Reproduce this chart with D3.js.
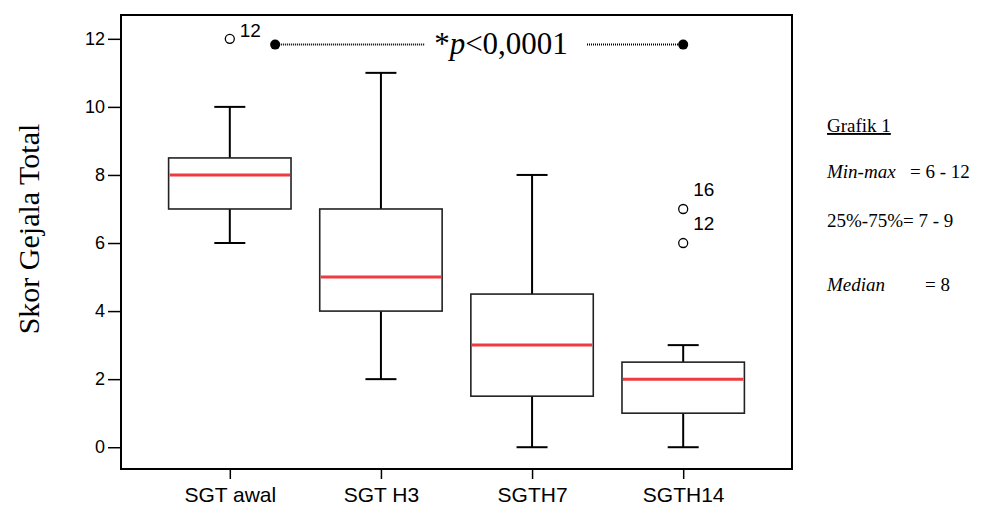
<!DOCTYPE html>
<html>
<head>
<meta charset="utf-8">
<script src="https://cdn.jsdelivr.net/npm/d3@7"></script>
<style>
  body { margin: 0; background: #fff; }
  svg { display: block; }
</style>
</head>
<body>
<div id="chart-area"></div>
<script>
// data
const groups = ["SGT awal", "SGT H3", "SGTH7", "SGTH14"];
const minVals = [6, 2, 0, 0];
const q1Vals = [7, 4, 1.5, 1];
const medianVals = [8, 5, 3, 2];
const q3Vals = [8.5, 7, 4.5, 2.5];
const maxVals = [10, 11, 8, 3];
const outliers = [
    {group: "SGT awal", value: 12, label: "12"},
    {group: "SGTH14", value: 7, label: "16"},
    {group: "SGTH14", value: 6, label: "12"}
];
const yTicks = [0, 2, 4, 6, 8, 10, 12];
const sigValue = 11.83;
const sigText = "p";
const notes = [
    {italic: "Min-max", rest: "= 6 - 12"},
    {italic: "", rest: "25%-75%= 7 - 9"},
    {italic: "Median", rest: "= 8"}
];

let W = 1003, H = 505;
let frame = {left: 121, right: 792, top: 15, bottom: 469};

const svg = d3.select("#chart-area").append("svg")
    .attr("width", W)
    .attr("height", H)

const y = d3.scaleLinear()
    .domain([-0.64, 12.7])
    .range([frame.bottom, frame.top])

const x = d3.scalePoint()
    .domain(groups)
    .range([frame.left, frame.right])
    .padding(0.72)

const step = x.step();
const boxW = step * 0.81;
const capW = 31;

const boxes = groups.map((g, i) => {
    return {group: g, min: minVals[i], q1: q1Vals[i], med: medianVals[i], q3: q3Vals[i], max: maxVals[i]};
});

//y axis
svg.append("g")
    .attr("transform", `translate(${frame.left},0)`)
    .call(d3.axisLeft(y).tickValues(yTicks).tickSize(13).tickSizeOuter(0).tickPadding(3))
    .call(g => g.select(".domain").remove())
    .call(g => g.selectAll("line").attr("stroke", "#000").attr("stroke-width", 1.5))
    .call(g => g.selectAll("text")
        .attr("font-family", "Liberation Sans, Arial, sans-serif")
        .attr("font-size", "18px")
        .attr("fill", "#000"))

//x axis
svg.append("g")
    .attr("transform", `translate(0,${frame.bottom})`)
    .call(d3.axisBottom(x).tickSize(10).tickSizeOuter(0).tickPadding(8))
    .call(g => g.select(".domain").remove())
    .call(g => g.selectAll("line").attr("stroke", "#000").attr("stroke-width", 1.5))
    .call(g => g.selectAll("text")
        .attr("font-family", "Liberation Sans, Arial, sans-serif")
        .attr("font-size", "21px")
        .attr("fill", "#000"))

//frame
svg.append("rect")
    .attr("x", frame.left)
    .attr("y", frame.top)
    .attr("width", frame.right - frame.left)
    .attr("height", frame.bottom - frame.top)
    .attr("fill", "none")
    .attr("stroke", "#000")
    .attr("stroke-width", 2)

//whiskers
const bg = svg.selectAll(".box").data(boxes).enter().append("g").attr("class", "box");

bg.append("line")
    .attr("x1", d => x(d.group)).attr("x2", d => x(d.group))
    .attr("y1", d => y(d.max)).attr("y2", d => y(d.q3))
    .attr("stroke", "#000").attr("stroke-width", 2)
bg.append("line")
    .attr("x1", d => x(d.group)).attr("x2", d => x(d.group))
    .attr("y1", d => y(d.q1)).attr("y2", d => y(d.min))
    .attr("stroke", "#000").attr("stroke-width", 2)
bg.append("line")
    .attr("x1", d => x(d.group) - capW / 2).attr("x2", d => x(d.group) + capW / 2)
    .attr("y1", d => y(d.max)).attr("y2", d => y(d.max))
    .attr("stroke", "#000").attr("stroke-width", 2)
bg.append("line")
    .attr("x1", d => x(d.group) - capW / 2).attr("x2", d => x(d.group) + capW / 2)
    .attr("y1", d => y(d.min)).attr("y2", d => y(d.min))
    .attr("stroke", "#000").attr("stroke-width", 2)

bg.append("rect")
    .attr("x", d => x(d.group) - boxW / 2)
    .attr("y", d => y(d.q3))
    .attr("width", boxW)
    .attr("height", d => y(d.q1) - y(d.q3))
    .attr("fill", "#fff")
    .attr("stroke", "#222")
    .attr("stroke-width", 1.6)

bg.append("line")
    .attr("x1", d => x(d.group) - boxW / 2 + 1).attr("x2", d => x(d.group) + boxW / 2 - 1)
    .attr("y1", d => y(d.med)).attr("y2", d => y(d.med))
    .attr("stroke", "#ef3a3f").attr("stroke-width", 3)

//outliers
svg.selectAll(".out").data(outliers).enter().append("circle")
    .attr("cx", d => x(d.group))
    .attr("cy", d => y(d.value))
    .attr("r", 4.5)
    .attr("fill", "#fff")
    .attr("stroke", "#000")
    .attr("stroke-width", 1.3)
// label sits up-right of the point, pushed down when it would hit the frame
svg.selectAll(".outlabel").data(outliers).enter().append("text")
    .attr("x", d => x(d.group) + 10)
    .attr("y", d => Math.max(y(d.value) - 13, frame.top + 22))
    .attr("font-family", "Liberation Sans, Arial, sans-serif")
    .attr("font-size", "19px")
    .text(d => d.label)

//significance line
const sx1 = x(groups[0]) + step * 0.3, sx2 = x(groups[3]);
const sy = y(sigValue);
const sigG = svg.append("g");
sigG.append("line")
    .attr("x1", sx1).attr("x2", 425).attr("y1", sy).attr("y2", sy)
    .attr("stroke", "#000").attr("stroke-width", 2).attr("stroke-dasharray", "1,1")
sigG.append("line")
    .attr("x1", 587).attr("x2", sx2).attr("y1", sy).attr("y2", sy)
    .attr("stroke", "#000").attr("stroke-width", 2).attr("stroke-dasharray", "1,1")
sigG.selectAll("circle").data([sx1, sx2]).enter().append("circle")
    .attr("cx", d => d).attr("cy", sy).attr("r", 5).attr("fill", "#000")
const sigLabel = sigG.append("text")
    .attr("x", 501)
    .attr("y", sy + 9)
    .attr("text-anchor", "middle")
    .attr("font-family", "Liberation Serif, Times New Roman, serif")
    .attr("font-size", "31px")
sigLabel.append("tspan").text("*")
sigLabel.append("tspan").attr("font-style", "italic").text(sigText)
sigLabel.append("tspan").text("<0,0001")

//Y label
svg.append("text")
    .attr("transform", "translate(39,229) rotate(-90)")
    .attr("text-anchor", "middle")
    .attr("font-family", "Liberation Serif, Times New Roman, serif")
    .attr("font-size", "30px")
    .text("Skor Gejala Total")

//notes
const noteG = svg.append("g")
    .attr("font-family", "Liberation Serif, Times New Roman, serif")
    .attr("font-size", "19px")
noteG.append("text")
    .attr("x", 827).attr("y", 132)
    .attr("text-decoration", "underline")
    .text("Grafik 1")
const noteY = [178, 227, 291];
const eqX = [910, 0, 925];
notes.forEach((n, i) => {
    if (n.italic) {
        noteG.append("text").attr("x", 827).attr("y", noteY[i])
            .attr("font-style", "italic").text(n.italic);
        noteG.append("text").attr("x", eqX[i]).attr("y", noteY[i]).text(n.rest);
    } else {
        noteG.append("text").attr("x", 827).attr("y", noteY[i]).text(n.rest);
    }
});
</script>
</body>
</html>
